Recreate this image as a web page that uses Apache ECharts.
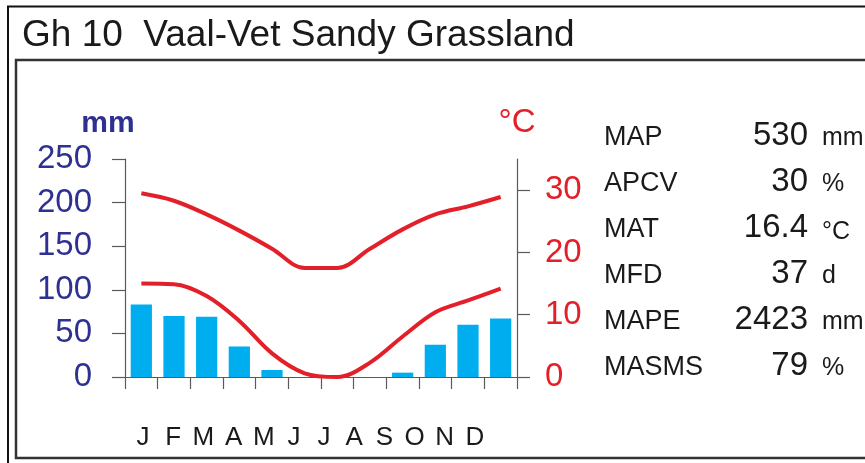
<!DOCTYPE html>
<html>
<head>
<meta charset="utf-8">
<script src="https://cdn.jsdelivr.net/npm/echarts@6/dist/echarts.min.js"></script>
<style>
html,body{margin:0;padding:0;background:#fff;}
#chart{width:865px;height:463px;}
</style>
</head>
<body>
<div id="chart"></div>
<script>
const months = ['J','F','M','A','M','J','J','A','S','O','N','D'];
const rainfall = [83, 70, 69, 35, 8, 0, 0, 0, 5, 37, 60, 67];
const tMax = [29.5, 28.3, 26.1, 23.5, 20.6, 17.5, 17.5, 20.6, 23.7, 26.1, 27.4, 28.9];
const tMin = [15.0, 14.9, 13.0, 9.0, 3.8, 0.6, 0.0, 2.3, 6.5, 10.4, 12.3, 14.2];
const rainTicks = [0, 50, 100, 150, 200, 250];
const tempTicks = [0, 10, 20, 30];
const statNames = ['MAP', 'APCV', 'MAT', 'MFD', 'MAPE', 'MASMS'];
const statValues = ['530', '30', '16.4', '37', '2423', '79'];
const statUnits = ['mm', '%', '°C', 'd', 'mm', '%'];
const titleText = 'Gh 10  Vaal-Vet Sandy Grassland';

const FONT = 'Liberation Sans, Arial, sans-serif';
const NAVY = '#2e3192';
const RED = '#e3202a';
const AXIS = '#5a5a5a';

const chart = echarts.init(document.getElementById('chart'), null, {renderer: 'canvas'});

const graphics = [
  {type: 'rect', shape: {x: 8, y: 6.5, width: 900, height: 480}, style: {fill: 'none', stroke: '#111', lineWidth: 2}, silent: true},
  {type: 'rect', shape: {x: 16, y: 60, width: 900, height: 398}, style: {fill: 'none', stroke: '#333', lineWidth: 2.5}, silent: true},
  {type: 'text', x: 22, y: 36, style: {text: titleText, font: '37px ' + FONT, fill: '#1a1a1a', verticalAlign: 'middle', align: 'left'}}
];
statNames.forEach((n, i) => {
  const y = 138 + 46 * i;
  graphics.push({type: 'text', x: 604, y: y, style: {text: n, font: '27px ' + FONT, fill: '#1a1a1a', verticalAlign: 'middle', align: 'left'}});
  graphics.push({type: 'text', x: 808, y: y - 2, style: {text: statValues[i], font: '33px ' + FONT, fill: '#1a1a1a', verticalAlign: 'middle', align: 'right'}});
  graphics.push({type: 'text', x: 822, y: y + (statUnits[i] === '°C' ? 2 : 0), style: {text: statUnits[i], font: '25px ' + FONT, fill: '#1a1a1a', verticalAlign: 'middle', align: 'left'}});
});

const option = {
  animation: false,
  backgroundColor: '#fff',
  textStyle: {fontFamily: FONT},
  graphic: graphics,
  grid: [
    {left: 125, top: 159, width: 392, height: 218},
    {left: 128, top: 159, width: 362, height: 218}
  ],
  xAxis: [
    {
      type: 'category', gridIndex: 0, data: months, boundaryGap: true,
      axisLine: {show: true, lineStyle: {color: AXIS, width: 1.2}},
      axisTick: {show: true, inside: false, length: 12, interval: 0, lineStyle: {color: AXIS, width: 1.2}},
      axisLabel: {show: false},
      splitLine: {show: false}
    },
    {
      type: 'category', gridIndex: 1, data: months, boundaryGap: true,
      axisLine: {show: false}, axisTick: {show: false}, splitLine: {show: false},
      axisLabel: {show: true, interval: 0, margin: 48, fontSize: 26, color: '#1a1a1a', fontFamily: FONT}
    }
  ],
  yAxis: [
    {
      type: 'value', gridIndex: 0, position: 'left', min: 0, max: 250, interval: 50,
      name: 'mm', nameLocation: 'end', nameGap: 20,
      nameTextStyle: {color: NAVY, fontSize: 30, fontWeight: 'bold', fontFamily: FONT, padding: [0, 34, 0, 0]},
      axisLine: {show: true, lineStyle: {color: AXIS, width: 1.2}},
      axisTick: {show: true, inside: false, length: 13, lineStyle: {color: AXIS, width: 1.2}, customValues: rainTicks},
      axisLabel: {color: NAVY, fontSize: 33, margin: 33, fontFamily: FONT, customValues: rainTicks},
      splitLine: {show: false}
    },
    {
      type: 'value', gridIndex: 0, position: 'right', min: 0, max: 35, interval: 10,
      name: '°C', nameLocation: 'end', nameGap: 20,
      nameTextStyle: {color: RED, fontSize: 33, fontFamily: FONT, padding: [0, 0, 0, 0]},
      axisLine: {show: true, lineStyle: {color: AXIS, width: 1.2}},
      axisTick: {show: true, inside: false, length: 13, lineStyle: {color: AXIS, width: 1.2}, customValues: tempTicks},
      axisLabel: {color: RED, fontSize: 33, margin: 28, fontFamily: FONT, customValues: tempTicks},
      splitLine: {show: false}
    },
    {
      type: 'value', gridIndex: 1, show: false, min: 0, max: 250
    }
  ],
  series: [
    {
      type: 'bar', name: 'Rainfall', xAxisIndex: 0, yAxisIndex: 0, data: rainfall,
      barWidth: '65%', itemStyle: {color: '#00aeef'}, z: 2
    },
    {
      type: 'line', name: 'Tmax', xAxisIndex: 0, yAxisIndex: 1, data: tMax,
      smooth: 0.35, symbol: 'none', lineStyle: {color: RED, width: 4}, z: 3
    },
    {
      type: 'line', name: 'Tmin', xAxisIndex: 0, yAxisIndex: 1, data: tMin,
      smooth: 0.35, symbol: 'none', lineStyle: {color: RED, width: 4}, z: 3
    }
  ]
};
chart.setOption(option);
</script>
</body>
</html>
